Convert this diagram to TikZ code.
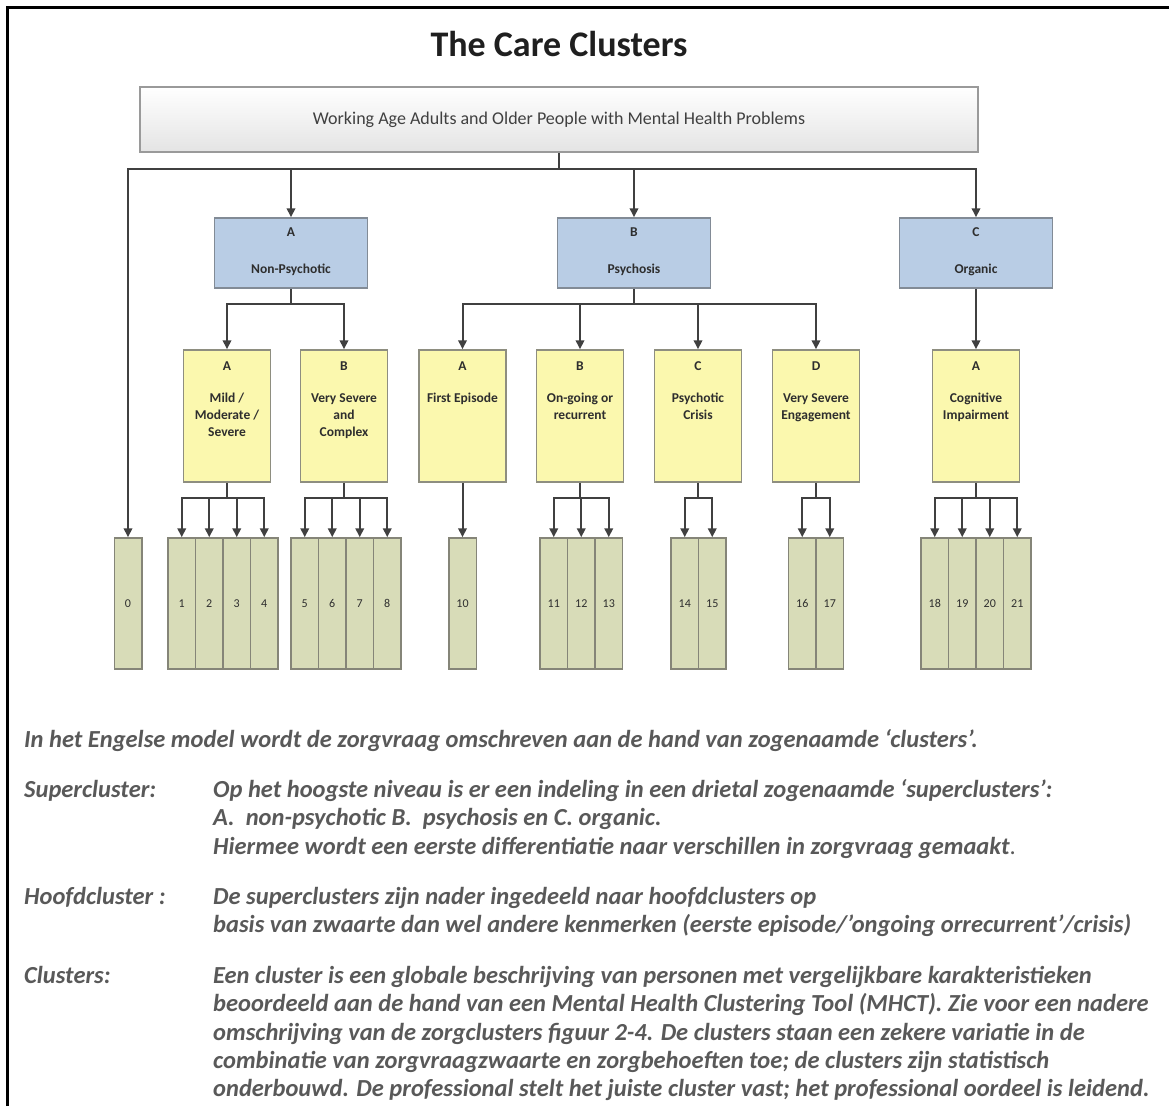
\documentclass[tikz,border=0pt]{standalone}
\usepackage{fontspec}
\setmainfont{Carlito}
\usetikzlibrary{arrows.meta,calc}
\definecolor{connc}{HTML}{404040}
\definecolor{topline}{HTML}{9A9A9A}
\definecolor{topfill}{HTML}{E4E4E4}
\definecolor{superfill}{HTML}{B9CDE5}
\definecolor{superline}{HTML}{828B96}
\definecolor{yelfill}{HTML}{FBF8AE}
\definecolor{yelline}{HTML}{8E8E80}
\definecolor{numfill}{HTML}{D8DCB8}
\definecolor{numline}{HTML}{858578}
\definecolor{boxtext}{HTML}{2E2E2E}
\definecolor{bodytext}{HTML}{595959}
\begin{document}
\begin{tikzpicture}[x=1pt,y=-1pt,
  topbox/.style={draw=topline, line width=1.5pt, top color=white, bottom color=topfill,
    minimum width=838pt, minimum height=65pt, inner sep=0pt,
    font=\fontsize{18}{21}\selectfont, text=connc},
  superbox/.style={draw=superline, fill=superfill, line width=1.5pt,
    minimum width=153pt, minimum height=70pt, inner sep=0pt},
  yelbox/.style={draw=yelline, fill=yelfill, line width=1.5pt,
    minimum width=87pt, minimum height=132pt, inner sep=0pt},
  numbox/.style={draw=numline, fill=numfill, line width=1.5pt,
    minimum width=27.5pt, minimum height=131pt, inner sep=0pt,
    font=\fontsize{12}{14}\selectfont, text=boxtext},
  boxlabel/.style={anchor=north, align=center, inner sep=0pt,
    font=\bfseries\fontsize{13.5}{17}\selectfont, text=boxtext},
  link/.style={draw=connc, line width=2pt},
  arr/.style={link, -{Triangle[length=9pt,width=8.5pt]}},
  body/.style={anchor=base west, inner sep=0pt,
    font=\bfseries\itshape\fontsize{24.5}{28}\selectfont, text=bodytext}
]
\useasboundingbox (0,0) rectangle (1169,1106);
% frame
\draw[line width=3pt, black] (7.5,1106) -- (7.5,7.5) -- (1169,7.5);

% title
\node[font=\bfseries\fontsize{36}{40}\selectfont, text=black!88] (title) at (559,44) {The Care Clusters};

% top box
\node[topbox] (top) at (559,119.5) {Working Age Adults and Older People with Mental Health Problems};

% super clusters
\node[superbox] (sA) at (291,253) {};
\node[superbox] (sB) at (634,253) {};
\node[superbox] (sC) at (976,253) {};
\node[boxlabel] (sAt) at ($(sA.north)+(0,10)$) {A\\[20pt]Non-Psychotic};
\node[boxlabel] (sBt) at ($(sB.north)+(0,10)$) {B\\[20pt]Psychosis};
\node[boxlabel] (sCt) at ($(sC.north)+(0,10)$) {C\\[20pt]Organic};

% main clusters
\node[yelbox] (hA) at (227,416) {};
\node[yelbox] (hB) at (344,416) {};
\node[yelbox] (pA) at (462.5,416) {};
\node[yelbox] (pB) at (580,416) {};
\node[yelbox] (pC) at (698,416) {};
\node[yelbox] (pD) at (816,416) {};
\node[yelbox] (oA) at (976,416) {};
\node[boxlabel] (hAt) at ($(hA.north)+(0,12)$) {A\\[15pt]Mild /\\Moderate /\\Severe};
\node[boxlabel] (hBt) at ($(hB.north)+(0,12)$) {B\\[15pt]Very Severe\\and\\Complex};
\node[boxlabel] (pAt) at ($(pA.north)+(0,12)$) {A\\[15pt]First Episode};
\node[boxlabel] (pBt) at ($(pB.north)+(0,12)$) {B\\[15pt]On-going or\\recurrent};
\node[boxlabel] (pCt) at ($(pC.north)+(0,12)$) {C\\[15pt]Psychotic\\Crisis};
\node[boxlabel] (pDt) at ($(pD.north)+(0,12)$) {D\\[15pt]Very Severe\\Engagement};
\node[boxlabel] (oAt) at ($(oA.north)+(0,12)$) {A\\[15pt]Cognitive\\Impairment};

% clusters
\foreach \nm/\xx in {0/128, 1/181.75, 2/209.25, 3/236.75, 4/264.25,
  5/304.75, 6/332.25, 7/359.75, 8/387.25, 10/462.5,
  11/553.75, 12/581.25, 13/608.75, 14/684.75, 15/712.25,
  16/802.25, 17/829.75, 18/934.75, 19/962.25, 20/989.75, 21/1017.25}
  \node[numbox] (n\nm) at (\xx,603.5) {\nm};

% connectors: top level
\draw[link] (top.south) -- ++(0,16) coordinate (j1);
\draw[arr] (j1) -| (n0.north);
\draw[arr] (j1) -| (sA.north);
\draw[arr] (j1) -| (sB.north);
\draw[arr] (j1) -| (sC.north);
% super -> main
\draw[link] (sA.south) -- ++(0,15) coordinate (ja);
\foreach \t in {hA,hB} \draw[arr] (ja) -| (\t.north);
\draw[link] (sB.south) -- ++(0,15) coordinate (jb);
\foreach \t in {pA,pB,pC,pD} \draw[arr] (jb) -| (\t.north);
\draw[arr] (sC.south) -- (oA.north);
% main -> clusters
\draw[link] (hA.south) -- ++(0,15) coordinate (k1);
\foreach \t in {n1,n2,n3,n4} \draw[arr] (k1) -| (\t.north);
\draw[link] (hB.south) -- ++(0,15) coordinate (k2);
\foreach \t in {n5,n6,n7,n8} \draw[arr] (k2) -| (\t.north);
\draw[arr] (pA.south) -- (n10.north);
\draw[link] (pB.south) -- ++(0,15) coordinate (k4);
\foreach \t in {n11,n12,n13} \draw[arr] (k4) -| (\t.north);
\draw[link] (pC.south) -- ++(0,15) coordinate (k5);
\foreach \t in {n14,n15} \draw[arr] (k5) -| (\t.north);
\draw[link] (pD.south) -- ++(0,15) coordinate (k6);
\foreach \t in {n16,n17} \draw[arr] (k6) -| (\t.north);
\draw[link] (oA.south) -- ++(0,15) coordinate (k7);
\foreach \t in {n18,n19,n20,n21} \draw[arr] (k7) -| (\t.north);

% explanatory text
\node[body] (t0) at (24,747) {In het Engelse model wordt de zorgvraag omschreven aan de hand van zogenaamde ‘clusters’.};
\node[body] (l1) at (24,797.5) {Supercluster:};
\node[body] (t1) at (213,797.5) {Op het hoogste niveau is er een indeling in een drietal zogenaamde ‘superclusters’:};
\node[body] (t2) at (213,825.8) {A.\ \ non-psychotic B.\ \ psychosis en C. organic.};
\node[body] (t3) at (213,854.1) {Hiermee wordt een eerste differentiatie naar verschillen in zorgvraag gemaakt{\mdseries\upshape .}};
\node[body] (l2) at (24,904.6) {Hoofdcluster :};
\node[body] (t4) at (213,904.6) {De superclusters zijn nader ingedeeld naar hoofdclusters op};
\node[body] (t5) at (213,932.9) {basis van zwaarte dan wel andere kenmerken (eerste episode/’ongoing orrecurrent’/crisis)};
\node[body] (l3) at (24,983.4) {Clusters:};
\node[body] (t6) at (213,983.4) {Een cluster is een globale beschrijving van personen met vergelijkbare karakteristieken};
\node[body] (t7) at (213,1011.7) {beoordeeld aan de hand van een Mental Health Clustering Tool (MHCT). Zie voor een nadere};
\node[body] (t8) at (213,1040) {omschrijving van de zorgclusters figuur 2-4. De clusters staan een zekere variatie in de};
\node[body] (t9) at (213,1068.3) {combinatie van zorgvraagzwaarte en zorgbehoeften toe; de clusters zijn statistisch};
\node[body] (t10) at (213,1096.6) {onderbouwd. De professional stelt het juiste cluster vast; het professional oordeel is leidend.};
\end{tikzpicture}
\end{document}
